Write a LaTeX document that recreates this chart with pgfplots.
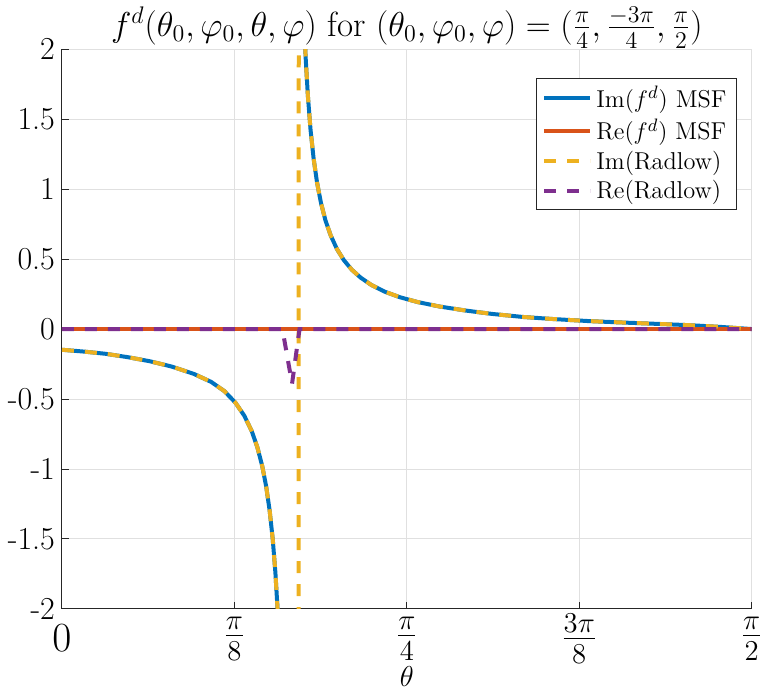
\documentclass[border=0pt]{standalone}
\usepackage{pgfplots}
\pgfplotsset{compat=1.18}

\definecolor{mblue}{rgb}{0,0.447,0.741}
\definecolor{morange}{rgb}{0.85,0.325,0.098}
\definecolor{myellow}{rgb}{0.929,0.694,0.125}
\definecolor{mpurple}{rgb}{0.494,0.184,0.556}
\definecolor{axgray}{rgb}{0.15,0.15,0.15}

% Im part, lower branch (left of the pole)
\pgfplotstableread{
t y
0.000 -0.148
0.050 -0.161
0.100 -0.177
0.150 -0.201
0.200 -0.230
0.250 -0.268
0.300 -0.320
0.340 -0.378
0.370 -0.444
0.395 -0.526
0.415 -0.618
0.432 -0.728
0.445 -0.845
0.456 -0.978
0.465 -1.124
0.473 -1.298
0.480 -1.502
0.486 -1.738
0.491 -2.001
0.497 -2.447
0.505 -3.488
}\imlow

% Im part, upper branch (right of the pole)
\pgfplotstableread{
t y
0.545 2.855
0.550 2.311
0.555 1.936
0.560 1.668
0.566 1.427
0.573 1.221
0.581 1.045
0.590 0.899
0.600 0.777
0.612 0.669
0.626 0.573
0.642 0.492
0.660 0.424
0.680 0.368
0.705 0.314
0.735 0.267
0.770 0.227
0.810 0.193
0.860 0.161
0.920 0.132
0.980 0.108
1.050 0.0864
1.120 0.0713
1.200 0.0569
1.280 0.0463
1.360 0.0365
1.430 0.0276
1.500 0.0154
1.5708 0.000
}\imhigh

\begin{document}
\begin{tikzpicture}
\begin{axis}[
  name=ax,
  scale only axis,
  width=345pt, height=280pt,
  xmin=0, xmax=1.5707963, ymin=-2, ymax=2,
  axis x line*=bottom, axis y line*=left,
  axis line style={axgray, line width=0.5pt},
  tick align=inside,
  major tick length=3.5pt,
  tick style={axgray, line width=0.5pt},
  xtick={0,0.3926991,0.7853982,1.1780972,1.5707963},
  xticklabels={$0$,$\frac{\pi}{8}$,$\frac{\pi}{4}$,$\frac{3\pi}{8}$,$\frac{\pi}{2}$},
  ytick={-2,-1.5,-1,-0.5,0,0.5,1,1.5,2},
  yticklabels={-2,-1.5,-1,-0.5,0,0.5,1,1.5,2},
  grid=major,
  grid style={black!12, line width=0.5pt},
  xticklabel style={font=\fontsize{20}{20}\selectfont, anchor=center, inner sep=0pt, yshift=-14.8pt},
  yticklabel style={font=\fontsize{16}{16}\selectfont},
  xlabel={$\theta$},
  xlabel style={font=\fontsize{15.5}{15.5}\selectfont, at={(axis description cs:0.5,0)}, anchor=base, inner sep=0pt, yshift=-39pt},
  every axis title shift=0pt,
  title={$f^d(\theta_0,\varphi_0,\theta,\varphi)$ for $(\theta_0,\varphi_0,\varphi)=(\frac{\pi}{4},\frac{-3\pi}{4},\frac{\pi}{2})$},
  title style={font=\fontsize{17.5}{17.5}\selectfont, at={(axis description cs:0.5,1)}, anchor=south, inner sep=0pt, yshift=0.3pt},
  legend style={at={(axis description cs:0.9787,0.9488)}, anchor=north east,
    draw=axgray, line width=0.5pt, fill=white,
    font=\fontsize{12.2}{15.5}\selectfont,
    inner xsep=3pt, inner ysep=2pt, row sep=0pt},
  legend cell align=left,
  legend image code/.code={\draw[#1] (0pt,0pt) -- (23pt,0pt);},
]

% Im(f^d) MSF
\addplot[mblue, line width=2pt] table[x=t, y=y] {\imlow};
\addlegendentry{Im$(f^d)$ MSF}
\addplot[mblue, line width=2pt, forget plot] table[x=t, y=y] {\imhigh};

% Re(f^d) MSF
\addplot[morange, line width=2pt] coordinates {
(0,0) (0.5236,0) (1.5708,0)
};
\addlegendentry{Re$(f^d)$ MSF}

% Im(Radlow): same branches, joined by a jump across the pole
\addplot[myellow, line width=2pt, dash pattern=on 6pt off 5.5pt] coordinates {
(0.000,-0.148) (0.050,-0.161) (0.100,-0.177) (0.150,-0.201) (0.200,-0.230)
(0.250,-0.268) (0.300,-0.320) (0.340,-0.378) (0.370,-0.444) (0.395,-0.526)
(0.415,-0.618) (0.432,-0.728) (0.445,-0.845) (0.456,-0.978) (0.465,-1.124)
(0.473,-1.298) (0.480,-1.502) (0.486,-1.738) (0.491,-2.001) (0.497,-2.447)
(0.505,-3.488)
(0.539,-60.0) (0.539,1.850)
(0.545,2.855) (0.550,2.311) (0.555,1.936) (0.560,1.668) (0.566,1.427)
(0.573,1.221) (0.581,1.045) (0.590,0.899) (0.600,0.777) (0.612,0.669)
(0.626,0.573) (0.642,0.492) (0.660,0.424) (0.680,0.368) (0.705,0.314)
(0.735,0.267) (0.770,0.227) (0.810,0.193) (0.860,0.161) (0.920,0.132)
(0.980,0.108) (1.050,0.0864) (1.120,0.0713) (1.200,0.0569) (1.280,0.0463)
(1.360,0.0365) (1.430,0.0276) (1.500,0.0154) (1.5708,0.000)
};
\addlegendentry{Im(Radlow)}

% Re(Radlow)
\addplot[mpurple, line width=2pt, dash pattern=on 6pt off 5.5pt] coordinates {
(0,0) (0.502,0) (0.524,-0.390) (0.541,0) (1.5708,0)
};
\addlegendentry{Re(Radlow)}

\end{axis}
\pgfresetboundingbox
\path ([shift={(-31pt,-40.35pt)}]ax.south west) rectangle ([shift={(4.65pt,24.65pt)}]ax.north east);
\end{tikzpicture}
\end{document}
